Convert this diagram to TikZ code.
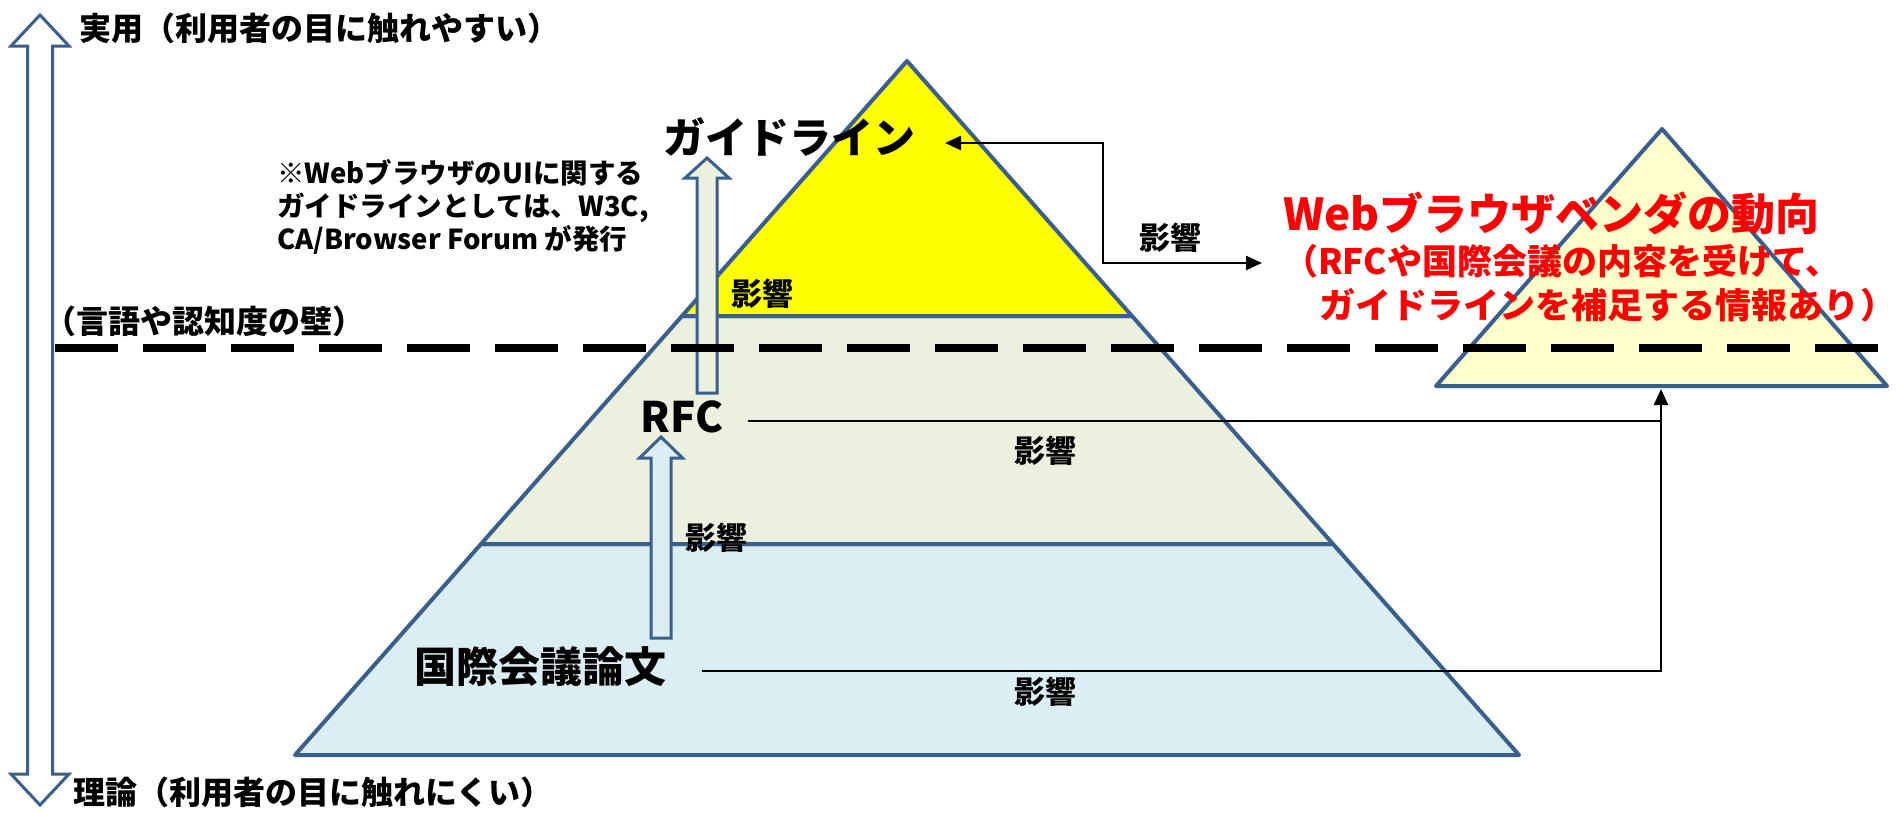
\documentclass[tikz,border=0pt]{standalone}
\usepackage{fontspec}
\setmainfont{Noto Sans CJK JP}
\usetikzlibrary{arrows.meta}
\definecolor{pblue}{HTML}{3A5F8F}
\definecolor{pyellow}{HTML}{FFFF00}
\definecolor{pbeige}{HTML}{EBF1DE}
\definecolor{plblue}{HTML}{DBEEF4}
\definecolor{pcream}{HTML}{FFFFCC}
\definecolor{pred}{HTML}{FF0000}
\newcommand\myfs[1]{\fontsize{#1}{#1}\selectfont}
\begin{document}
\begin{tikzpicture}[x=1pt,y=-1pt,
  outl/.style={draw=pblue,line width=4pt,line join=round},
  barrow/.style={draw=pblue,line width=3pt,line join=miter},
  conn/.style={draw=black,line width=2.5pt},
  tipend/.style={-{Triangle[length=16pt,width=14pt]}},
  tipboth/.style={{Triangle[length=16pt,width=14pt]}-{Triangle[length=16pt,width=14pt]}},
  txt/.style={inner sep=0pt,font=\bfseries\myfs{#1}}]
\useasboundingbox (0,0) rectangle (1901,812);
\fill[white] (0,0) rectangle (1901,812);

% left double arrow
\draw[barrow,fill=white] (40,15) -- (69,46) -- (52.5,46) -- (52.5,774) -- (69,774) -- (40,805)
  -- (11,774) -- (27.5,774) -- (27.5,46) -- (11,46) -- cycle;

% main pyramid
\draw[outl,fill=plblue] (481,544) -- (1333,544) -- (1519,755) -- (295,755) -- cycle;
\draw[outl,fill=pbeige] (682,316) -- (1132,316) -- (1333,544) -- (481,544) -- cycle;
\draw[outl,fill=pyellow] (907,61) -- (1132,316) -- (682,316) -- cycle;

% small triangle
\draw[outl,fill=pcream] (1662,129) -- (1887,386) -- (1436,386) -- cycle;

% block arrows
\draw[barrow,fill=pbeige] (697,393) -- (697,178) -- (685,178) -- (707,158) -- (729,178)
  -- (717,178) -- (717,393) -- cycle;
\draw[barrow,fill=plblue] (651,638) -- (651,458) -- (639.5,458) -- (661,437) -- (682.5,458)
  -- (671,458) -- (671,638) -- cycle;

% texts
\node[txt=32,anchor=west] (jitsu) at (79,28) {実用（利用者の目に触れやすい）};
\node[txt=32,anchor=west] (riron) at (73,792) {理論（利用者の目に触れにくい）};
\node[txt=32,anchor=west] (kabe) at (44,321) {（言語や認知度の壁）};
\node[anchor=west,inner sep=0pt,align=left,font=\bfseries\fontsize{27.5}{33}\selectfont] (note) at (277,207)
  {※WebブラウザのUIに関する\\ガイドラインとしては、W3C,\\CA/Browser Forum が発行};
\node[txt=42] (guide) at (789,137) {ガイドライン};
\node[txt=42] (rfc) at (682,417) {RFC};
\node[txt=42] (kokusai) at (540,667) {国際会議論文};
\node[txt=44,anchor=west,text=pred] (vendor) at (1283,213) {Webブラウザベンダの動向};
\node[txt=35,anchor=west,text=pred] (vnote1) at (1283,261) {（RFCや国際会議の内容を受けて、};
\node[txt=35,anchor=west,text=pred,xscale=1.03] (vnote2) at (1283,305) {　ガイドラインを補足する情報あり）};

\node[txt=31] (e1) at (762,294) {影響};
\node[txt=31] (e2) at (716,538) {影響};
\node[txt=31] (e3) at (1170,238) {影響};
\node[txt=31] (e4) at (1045,451) {影響};
\node[txt=31] (e5) at (1045,692) {影響};

% connectors
\coordinate (gtip) at (945,143);
\coordinate (vtip) at (1262,263);
\coordinate (rfcstart) at (748,421);
\coordinate (kstart) at (702,671);
\coordinate (tribase) at (1661,389);
\draw[conn,tipboth] (gtip) -- (1103,143) -- (1103,263) -- (vtip);
\draw[conn] (rfcstart) -- (rfcstart -| tribase);
\draw[conn,tipend] (kstart) -| (tribase);

% dashed wall line
\draw[line width=8.5pt,dash pattern=on 63pt off 25pt] (55,348) -- (1879,348);
\end{tikzpicture}
\end{document}
